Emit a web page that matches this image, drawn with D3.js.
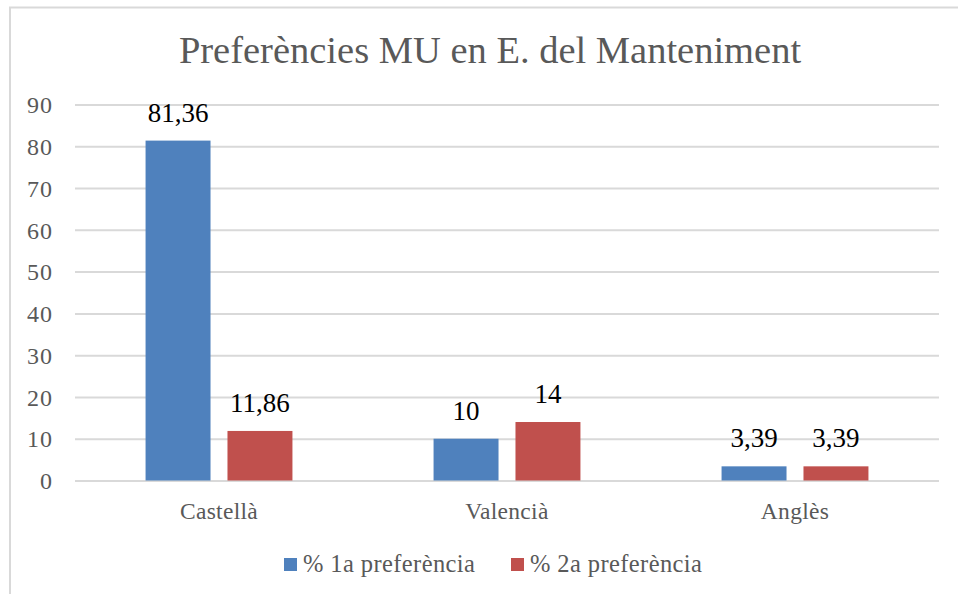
<!DOCTYPE html>
<html>
<head>
<meta charset="utf-8">
<script src="https://cdn.jsdelivr.net/npm/d3@7"></script>
<style>
  html, body { margin: 0; padding: 0; background: #fff; }
  svg { display: block; }
</style>
</head>
<body>
<div id="chart"></div>
<script>
// Data
const categories = ['Castellà', 'Valencià', 'Anglès'];
const seriesNames = ['% 1a preferència', '% 2a preferència'];
const firstPref = [81.36, 10, 3.39];
const secondPref = [11.86, 14, 3.39];
const yTicks = [0, 10, 20, 30, 40, 50, 60, 70, 80, 90];

const colors = ['#4F81BD', '#C0504D'];
const FONT = "'Liberation Serif', 'Times New Roman', serif";

const width = 958, height = 594;
const margin = {top: 104.5, right: 19, bottom: 113.5, left: 75};
const innerW = width - margin.left - margin.right;
const innerH = height - margin.top - margin.bottom;

// catalan number format (decimal comma)
const fmt = d3.formatLocale({decimal: ',', thousands: '.', grouping: [3], currency: ['', '€']}).format(',~r');

const table = categories.map((c, i) => ({
    category: c,
    values: [firstPref[i], secondPref[i]]
}));

const svg = d3.select('#chart').append('svg')
    .attr('width', width)
    .attr('height', height)
    .style('font-family', FONT);

// chart area border (only top and left visible in the crop)
svg.append('path')
    .attr('d', `M10,${height + 5} L10,7.5 L${width + 5},7.5`)
    .attr('fill', 'none')
    .attr('stroke', '#d9d9d9')
    .attr('stroke-width', 2);

// Title
svg.append('text')
    .attr('x', 490)
    .attr('y', 63)
    .attr('text-anchor', 'middle')
    .style('font-family', FONT)
    .style('font-size', '38.5px')
    .attr('fill', '#595959')
    .text('Preferències MU en E. del Manteniment');

const g = svg.append('g')
    .attr('transform', `translate(${margin.left}, ${margin.top})`);

// Scales
const x0 = d3.scaleBand()
    .domain(categories)
    .range([0, innerW])
    .paddingInner(0.49)
    .paddingOuter(0.245);

const x1 = d3.scaleBand()
    .domain(d3.range(seriesNames.length))
    .range([0, x0.bandwidth()])
    .paddingInner(0.207);

const y = d3.scaleLinear()
    .domain([0, 90])
    .range([innerH, 0]);

// Grid lines
g.append('g')
    .attr('class', 'grid')
    .call(d3.axisLeft(y)
        .tickValues(yTicks)
        .tickSize(-innerW)
        .tickFormat('')
    )
    .call(s => s.select('.domain').remove())
    .call(s => s.selectAll('line').attr('stroke', '#d9d9d9').attr('stroke-width', 2));

// Y axis labels
g.append('g')
    .attr('transform', 'translate(-22, 0)')
    .call(d3.axisLeft(y).tickValues(yTicks).tickSize(0).tickPadding(0))
    .attr('font-family', null)
    .attr('font-size', null)
    .call(s => s.select('.domain').remove())
    .call(s => s.selectAll('text')
        .style('font-family', FONT)
        .style('font-size', '24px')
        .style('letter-spacing', '1px')
        .attr('fill', '#595959')
        .attr('dy', '0.34em'));

// X axis labels
g.append('g')
    .attr('transform', `translate(0, ${innerH})`)
    .call(d3.axisBottom(x0).tickSize(0).tickPadding(22))
    .attr('font-family', null)
    .attr('font-size', null)
    .call(s => s.select('.domain').remove())
    .call(s => s.selectAll('text')
        .style('font-family', FONT)
        .style('font-size', '23.5px')
        .style('letter-spacing', '0.3px')
        .attr('fill', '#595959'));

// Bars
const groups = g.selectAll('g.group')
    .data(table)
    .enter()
    .append('g')
    .attr('class', 'group')
    .attr('transform', d => `translate(${x0(d.category)}, 0)`);

groups.selectAll('rect')
    .data(d => d.values)
    .enter()
    .append('rect')
    .attr('x', (d, i) => x1(i))
    .attr('y', d => y(d))
    .attr('width', x1.bandwidth())
    .attr('height', d => innerH - y(d))
    .attr('fill', (d, i) => colors[i]);

// Value labels
groups.selectAll('text.value')
    .data(d => d.values)
    .enter()
    .append('text')
    .attr('class', 'value')
    .attr('x', (d, i) => x1(i) + x1.bandwidth() / 2)
    .attr('y', d => y(d) - 19)
    .attr('text-anchor', 'middle')
    .style('font-family', FONT)
    .style('font-size', '27px')
    .attr('fill', '#000')
    .text(d => fmt(d));

// Legend
const legendX = [284, 511];
const legend = svg.selectAll('g.legend')
    .data(seriesNames)
    .enter()
    .append('g')
    .attr('class', 'legend')
    .attr('transform', (d, i) => `translate(${legendX[i]}, 558)`);

legend.append('rect')
    .attr('width', 13)
    .attr('height', 13)
    .attr('fill', (d, i) => colors[i]);

legend.append('text')
    .attr('x', 19)
    .attr('y', 14)
    .style('font-family', FONT)
    .style('font-size', '24.5px')
    .style('letter-spacing', '0.4px')
    .attr('fill', '#595959')
    .text(d => d);
</script>
</body>
</html>
